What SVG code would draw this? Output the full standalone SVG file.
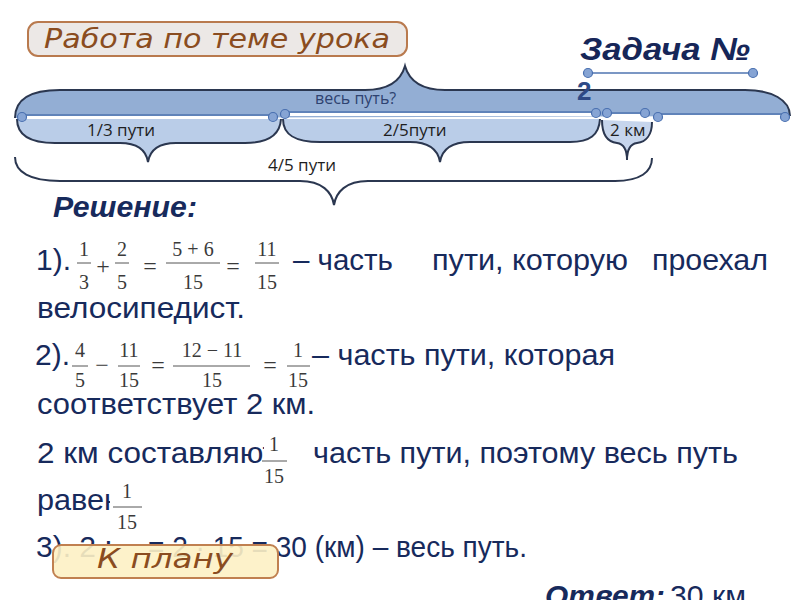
<svg xmlns="http://www.w3.org/2000/svg" width="800" height="600" viewBox="0 0 800 600">
<style>
.main{font-family:"Liberation Sans",Arial,sans-serif;font-size:30px;fill:#172A5C}
.fr{font-family:"Liberation Serif","DejaVu Serif",serif;font-size:20px;fill:#3a3a3a;text-anchor:middle}
.op{font-family:"Liberation Serif","DejaVu Serif",serif;font-size:24px;fill:#3a3a3a;text-anchor:middle}
.bar{stroke:#555;stroke-width:1}
.lbl{font-family:"Open Sans","Noto Sans",sans-serif;font-size:17px;fill:#1e1e1e}
.brace{fill:none;stroke:#2B3750;stroke-width:2}
.hdl{fill:#86A4D4;stroke:#4A70B0;stroke-width:1.2}
.seg{stroke:#4F74B0;stroke-width:1.5}
.segw{stroke:#ffffff;stroke-width:3}
.btntxt{font-family:"DejaVu Sans","Liberation Sans",sans-serif;font-style:italic;fill:#8A4C20}
</style>

<g id="title">
<rect x="28" y="22" width="379" height="34" rx="10" fill="#ECE8E6" stroke="#B97A4E" stroke-width="2"/>
<text class="btntxt" x="44" y="48" font-size="26" textLength="346" lengthAdjust="spacingAndGlyphs">Работа по теме урока</text>
</g>

<g id="task">
<text x="580" y="60" font-family="Liberation Sans,Arial,sans-serif" font-size="32" font-weight="bold" font-style="italic" fill="#162658" textLength="170" lengthAdjust="spacingAndGlyphs">Задача №</text>
<line x1="588" y1="73" x2="753" y2="73" stroke="#4F74B0" stroke-width="1.5"/>
<circle class="hdl" cx="588" cy="73" r="4.5"/>
<circle class="hdl" cx="753" cy="73" r="4.5"/>
</g>

<g id="whole">
<path d="M15,118 C15,100 30,90 60,90 L365,90 C390,90 401,80 405,66 C409,80 420,90 445,90 L745,90 C772,90 790,100 790,116 Z" fill="#93AED4"/>
<path class="brace" d="M15,118 C15,100 30,90 60,90 L365,90 C390,90 401,80 405,66 C409,80 420,90 445,90 L745,90 C772,90 790,100 790,116"/>
<text x="315" y="104" font-family="Open Sans,Noto Sans,sans-serif" font-size="16" fill="#2E4270">весь  путь?</text>
<text x="577" y="100" font-family="Liberation Sans,Arial,sans-serif" font-size="26" font-weight="bold" fill="#2E4A86">2</text>
</g>

<g id="part13">
<path d="M17,119 C17,135 30,143 55,143 L120,143 C138,143 146,150 148,162 C150,150 158,143 176,143 L245,143 C268,143 280,135 281,119 Z" fill="#BACDE8"/>
<path class="brace" d="M17,119 C17,135 30,143 55,143 L120,143 C138,143 146,150 148,162 C150,150 158,143 176,143 L245,143 C268,143 280,135 281,119"/>
<text class="lbl" x="87" y="136">1/3 пути</text>
</g>

<g id="part25">
<path d="M283,119 C283,135 295,142 320,142 L410,142 C430,142 438,150 440,162 C442,150 450,142 470,142 L570,142 C590,142 599,135 600,119 Z" fill="#BACDE8"/>
<path class="brace" d="M283,119 C283,135 295,142 320,142 L410,142 C430,142 438,150 440,162 C442,150 450,142 470,142 L570,142 C590,142 599,135 600,119"/>
<text class="lbl" x="383" y="136">2/5пути</text>
</g>

<g id="part2km">
<path d="M602,120 C602,135 608,142 617,143 C624,144 627,150 627,160 C627,150 630,144 637,143 C646,142 652,135 652,122 Z" fill="#C6D5EC"/>
<path class="brace" d="M602,120 C602,135 608,142 617,143 C624,144 627,150 627,160 C627,150 630,144 637,143 C646,142 652,135 652,122"/>
<text class="lbl" x="610" y="136">2 км</text>
</g>

<g id="part45">
<path class="brace" d="M15,157 C15,172 30,181 60,181 L300,181 C322,181 332,192 334,205 C336,192 346,181 368,181 L615,181 C640,181 652,172 652,158"/>
<text class="lbl" x="268" y="171">4/5  пути</text>
</g>

<g id="connectors">
<line class="seg" x1="20" y1="115" x2="275" y2="115"/>
<line class="segw" x1="20" y1="117.5" x2="275" y2="117.5"/>
<line class="seg" x1="285" y1="112" x2="597" y2="112"/>
<line class="segw" x1="285" y1="114.5" x2="597" y2="114.5"/>
<line class="seg" x1="607" y1="113" x2="645" y2="113"/>
<line class="segw" x1="607" y1="115.5" x2="645" y2="115.5"/>
<line class="seg" x1="658" y1="114" x2="785" y2="114"/>
<line class="segw" x1="658" y1="116.5" x2="785" y2="116.5"/>
<circle class="hdl" cx="22" cy="117" r="4.5"/>
<circle class="hdl" cx="273" cy="117" r="4.5"/>
<circle class="hdl" cx="285" cy="114" r="4.5"/>
<circle class="hdl" cx="596" cy="113" r="4.5"/>
<circle class="hdl" cx="607" cy="113" r="4.5"/>
<circle class="hdl" cx="645" cy="113" r="4.5"/>
<circle class="hdl" cx="658" cy="117" r="4.5"/>
<circle class="hdl" cx="785" cy="117" r="4.5"/>
</g>

<g id="solution">
<text x="53" y="217" font-family="Liberation Sans,Arial,sans-serif" font-size="29" font-weight="bold" font-style="italic" fill="#172A5C" textLength="144" lengthAdjust="spacingAndGlyphs">Решение:</text>

<text class="main" x="36" y="270">1).</text>
<text class="fr" x="84" y="256">1</text><line class="bar" x1="77" y1="263" x2="91" y2="263"/><text class="fr" x="84" y="289">3</text>
<text class="op" x="103" y="274">+</text>
<text class="fr" x="122" y="256">2</text><line class="bar" x1="115" y1="263" x2="129" y2="263"/><text class="fr" x="122" y="289">5</text>
<text class="op" x="150" y="274">=</text>
<text class="fr" x="193" y="256">5 + 6</text><line class="bar" x1="166" y1="263" x2="220" y2="263"/><text class="fr" x="193" y="289">15</text>
<text class="op" x="233" y="274">=</text>
<text class="fr" x="267" y="256">11</text><line class="bar" x1="255" y1="263" x2="279" y2="263"/><text class="fr" x="267" y="289">15</text>
<text class="main" x="293" y="270" textLength="100" lengthAdjust="spacingAndGlyphs">– часть</text>
<text class="main" x="432" y="270" textLength="196" lengthAdjust="spacingAndGlyphs">пути, которую</text>
<text class="main" x="652" y="270" textLength="116" lengthAdjust="spacingAndGlyphs">проехал</text>
<text class="main" x="37" y="318" textLength="208" lengthAdjust="spacingAndGlyphs">велосипедист.</text>

<text class="main" x="35" y="365">2).</text>
<text class="fr" x="80" y="357">4</text><line class="bar" x1="72" y1="366" x2="88" y2="366"/><text class="fr" x="80" y="387">5</text>
<text class="op" x="102" y="373">−</text>
<text class="fr" x="129" y="357">11</text><line class="bar" x1="118" y1="366" x2="140" y2="366"/><text class="fr" x="129" y="387">15</text>
<text class="op" x="158" y="373">=</text>
<text class="fr" x="212" y="357">12 − 11</text><line class="bar" x1="173" y1="366" x2="250" y2="366"/><text class="fr" x="212" y="387">15</text>
<text class="op" x="270" y="373">=</text>
<text class="fr" x="298" y="357">1</text><line class="bar" x1="287" y1="366" x2="310" y2="366"/><text class="fr" x="298" y="387">15</text>
<text class="main" x="312" y="365" textLength="303" lengthAdjust="spacingAndGlyphs">– часть пути, которая</text>
<text class="main" x="37" y="414" textLength="278" lengthAdjust="spacingAndGlyphs">соответствует 2 км.</text>

<text class="main" x="37" y="463" textLength="240" lengthAdjust="spacingAndGlyphs">2 км составляют</text>
<rect x="264" y="436" width="26" height="52" fill="#ffffff"/>
<text class="fr" x="274" y="451">1</text><line class="bar" x1="262" y1="461" x2="287" y2="461"/><text class="fr" x="274" y="483">15</text>
<text class="main" x="313" y="463" textLength="425" lengthAdjust="spacingAndGlyphs">часть пути, поэтому весь путь</text>

<text class="main" x="37" y="510" textLength="84" lengthAdjust="spacingAndGlyphs">равен</text>
<rect x="110" y="483" width="34" height="48" fill="#ffffff"/>
<text class="fr" x="127" y="498">1</text><line class="bar" x1="113" y1="507" x2="142" y2="507"/><text class="fr" x="127" y="529">15</text>

<text class="main" x="36" y="557">3). 2 :</text>
<text class="main" x="148" y="557" textLength="379" lengthAdjust="spacingAndGlyphs">= 2 · 15 = 30 (км) – весь путь.</text>

<text x="545" y="606" font-family="Liberation Sans,Arial,sans-serif" font-size="29" font-weight="bold" font-style="italic" fill="#172A5C" textLength="120" lengthAdjust="spacingAndGlyphs">Ответ:</text>
<text class="main" x="670" y="606" font-size="29" textLength="76" lengthAdjust="spacingAndGlyphs">30 км</text>
</g>

<g id="button">
<rect x="53" y="545" width="225" height="33" rx="8" fill="#FDF1C4" fill-opacity="0.9" stroke="#C08050" stroke-width="2"/>
<text class="btntxt" x="97" y="568" font-size="26" textLength="136" lengthAdjust="spacingAndGlyphs">К  плану</text>
</g>
</svg>
